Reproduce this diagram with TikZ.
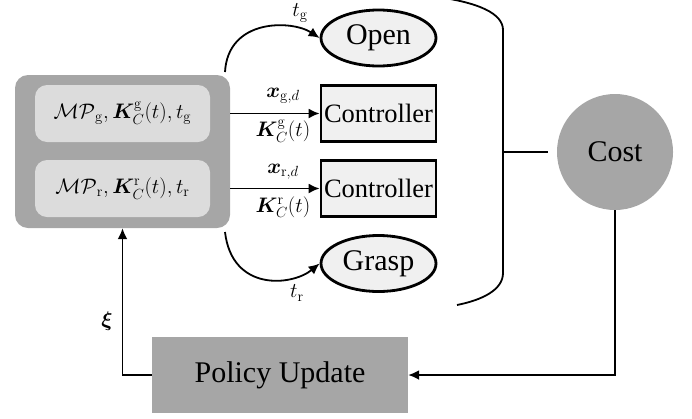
\RequirePackage{fix-cm}
\documentclass[tikz,border=0pt]{standalone}
\usepackage{amsmath}
\usepackage{bm}
\usepackage[no-math]{fontspec}
\setmainfont{Liberation Serif}
\usetikzlibrary{arrows.meta,calc,shapes.geometric}
\definecolor{darkg}{HTML}{A6A6A6}
\definecolor{lightg}{HTML}{DCDCDC}
\definecolor{paleg}{HTML}{F0F0F0}
\tikzset{
  big/.style={font=\fontsize{30}{34}\selectfont},
  mth/.style={font=\fontsize{21}{25}\selectfont},
  outerbox/.style={fill=darkg, rounded corners=13pt, minimum width=215pt, minimum height=153pt},
  innerbox/.style={fill=lightg, rounded corners=12pt, minimum width=175pt, minimum height=57pt, mth},
  ctrlbox/.style={draw, line width=2.8pt, fill=paleg, minimum width=115pt, minimum height=56pt, inner sep=0pt, font=\fontsize{26.5}{30}\selectfont},
  evt/.style={draw, ellipse, line width=2.8pt, fill=paleg, minimum width=115pt, minimum height=56pt, inner sep=0pt, big},
  conn/.style={line width=1.8pt},
  arr/.style={conn, -{Latex[length=11pt,width=10pt]}},
}
\begin{document}
\begin{tikzpicture}[x=1pt,y=-1pt]
\useasboundingbox (0,0) rectangle (692,418);
\node[outerbox] (outer) at (122.5,151.5) {};
\node[innerbox] (ig) at (122.5,113.5) {$\mathcal{MP}_{\mathrm{g}},\bm{K}_C^{\mathrm{g}}(t),t_{\mathrm{g}}$};
\node[innerbox] (ir) at (122.5,188.5) {$\mathcal{MP}_{\mathrm{r}},\bm{K}_C^{\mathrm{r}}(t),t_{\mathrm{r}}$};
\node[evt] (open) at (378.5,38) {Open};
\node[ctrlbox] (c1) at (378.5,113.5) {Controller};
\node[ctrlbox] (c2) at (378.5,188.5) {Controller};
\node[evt] (grasp) at (378.5,263.5) {Grasp};
\node[circle, fill=darkg, minimum size=116pt, big] (cost) at (615,152) {Cost};
\node[fill=darkg, minimum width=256pt, minimum height=76pt, big] (pol) at (280,375) {Policy Update};
% arrows to controllers
\draw[arr] (c1.west -| outer.east) -- (c1.west);
\draw[arr] (c2.west -| outer.east) -- (c2.west);
\node[mth] (xg) at (283,96) {$\bm{x}_{\mathrm{g},d}$};
\node[mth] (kg) at (283,131) {$\bm{K}_C^{\mathrm{g}}(t)$};
\node[mth] (xr) at (283,172) {$\bm{x}_{\mathrm{r},d}$};
\node[mth] (kr) at (283,207) {$\bm{K}_C^{\mathrm{r}}(t)$};
% curved arrows
\coordinate (s1) at (225,72);
\coordinate (s2) at (225,232);
\draw[arr] (s1) .. controls (228,18) and (292,20) .. (open.west);
\draw[arr] (s2) .. controls (232,292) and (292,286) .. (grasp.west);
\node[mth] (tg) at (300,13) {$t_{\mathrm{g}}$};
\node[mth] (tr) at (297,293) {$t_{\mathrm{r}}$};
% bracket
\coordinate (bt) at (503,30);
\coordinate (bb) at (503,273);
\coordinate (bm) at (503,152);
\coordinate (be) at (548,152);
\draw[conn] (430,-4) .. controls (480,2) and (503,14) .. (bt) -- (bb) .. controls (503,290) and (482,300) .. (457,305);
\draw[conn] (bm) -- (be);
% feedback
\draw[arr] (cost.south) |- (pol.east);
\draw[arr] (pol.west) -| (outer.south);
\node[mth] (xi) at (107,321) {$\bm{\xi}$};
\end{tikzpicture}
\end{document}
